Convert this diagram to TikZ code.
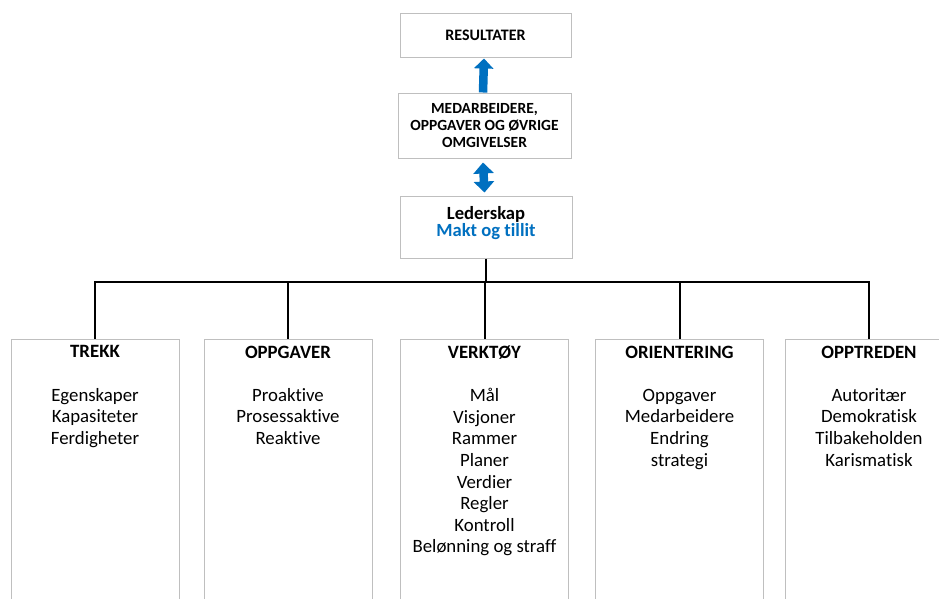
\documentclass[tikz,border=0pt]{standalone}
\usepackage{fontspec}
\setmainfont{Carlito}[Ligatures={NoCommon}]
\usetikzlibrary{arrows.meta}
\definecolor{boxgray}{HTML}{BFBFBF}
\definecolor{arrowblue}{HTML}{0070C0}
\begin{document}
\begin{tikzpicture}[x=1pt,y=-1pt,
  box/.style={draw=boxgray, line width=1pt, inner sep=0pt, fill=white},
  topbox/.style={box, align=center, font=\fontsize{15.5}{16.8}\selectfont\bfseries},
  colbox/.style={box, minimum width=168pt, minimum height=273pt},
  coltext/.style={anchor=north, align=center, inner sep=0pt, font=\fontsize{18.8}{21.6}\selectfont},
  conn/.style={draw=black, line width=2pt},
  blockarrow/.style={draw=arrowblue, line width=8.5pt}
]
\useasboundingbox (0,0) rectangle (939,598);
\clip (0,0) rectangle (939,598);
\fill[white] (0,0) rectangle (939,598);

% top boxes
\node[topbox, minimum width=171pt, minimum height=44pt,
  font=\fontsize{16}{16.8}\selectfont\bfseries] (res) at (485.5,35) {RESULTATER};
\node[topbox, minimum width=173pt, minimum height=65pt] (mid) at (484.5,125.5)
  {MEDARBEIDERE,\\OPPGAVER OG ØVRIGE\\OMGIVELSER};
\node[box, minimum width=172pt, minimum height=62pt] (led) at (486,227) {};
\node[align=center, inner sep=0pt, font=\fontsize{18.6}{17.5}\selectfont\bfseries]
  (ledtext) at ([yshift=4pt]led.center)
  {Lederskap\\\textcolor{arrowblue}{Makt og tillit}};

% blue arrows
\draw[blockarrow, -{Triangle[width=19pt,length=10pt]}]
  ([xshift=-1.5pt]mid.north) -- ([xshift=-1.5pt,yshift=-1pt]res.south);
\draw[blockarrow, {Triangle[width=20pt,length=11pt]}-{Triangle[width=20pt,length=11pt]}]
  ([xshift=-1.5pt,yshift=-4pt]mid.south) -- ([xshift=-1.5pt,yshift=3pt]led.north);

% column boxes
\node[colbox] (b1) at (95,475.5) {};
\node[colbox] (b2) at (288,475.5) {};
\node[colbox] (b3) at (484.5,475.5) {};
\node[colbox] (b4) at (679.5,475.5) {};
\node[colbox] (b5) at (869,475.5) {};

% column texts
\node[coltext] (t1) at ([yshift=-7pt]b1.north)
  {\textbf{TREKK}\\[21.6pt]Egenskaper\\Kapasiteter\\Ferdigheter};
\node[coltext] (t2) at ([yshift=-7pt]b2.north)
  {\textbf{OPPGAVER}\\[21.6pt]Proaktive\\Prosessaktive\\Reaktive};
\node[coltext] (t3) at ([yshift=-7pt]b3.north)
  {\textbf{VERKTØY}\\[21.6pt]Mål\\Visjoner\\Rammer\\Planer\\Verdier\\Regler\\Kontroll\\Belønning og straff};
\node[coltext] (t4) at ([yshift=-7pt]b4.north)
  {\textbf{ORIENTERING}\\[21.6pt]Oppgaver\\Medarbeidere\\Endring\\strategi};
\node[coltext] (t5) at ([yshift=-7pt]b5.north)
  {\textbf{OPPTREDEN}\\[21.6pt]Autoritær\\Demokratisk\\Tilbakeholden\\Karismatisk};

% tree connectors
\coordinate (bus) at (485,282);
\draw[conn] (led.south) -- (led.south |- bus);
\draw[conn] (b1.north) -- (b1.north |- bus) -- (b5.north |- bus) -- (b5.north);
\draw[conn] (b2.north) -- (b2.north |- bus);
\draw[conn] (b3.north) -- (b3.north |- bus);
\draw[conn] (b4.north) -- (b4.north |- bus);
\end{tikzpicture}
\end{document}
